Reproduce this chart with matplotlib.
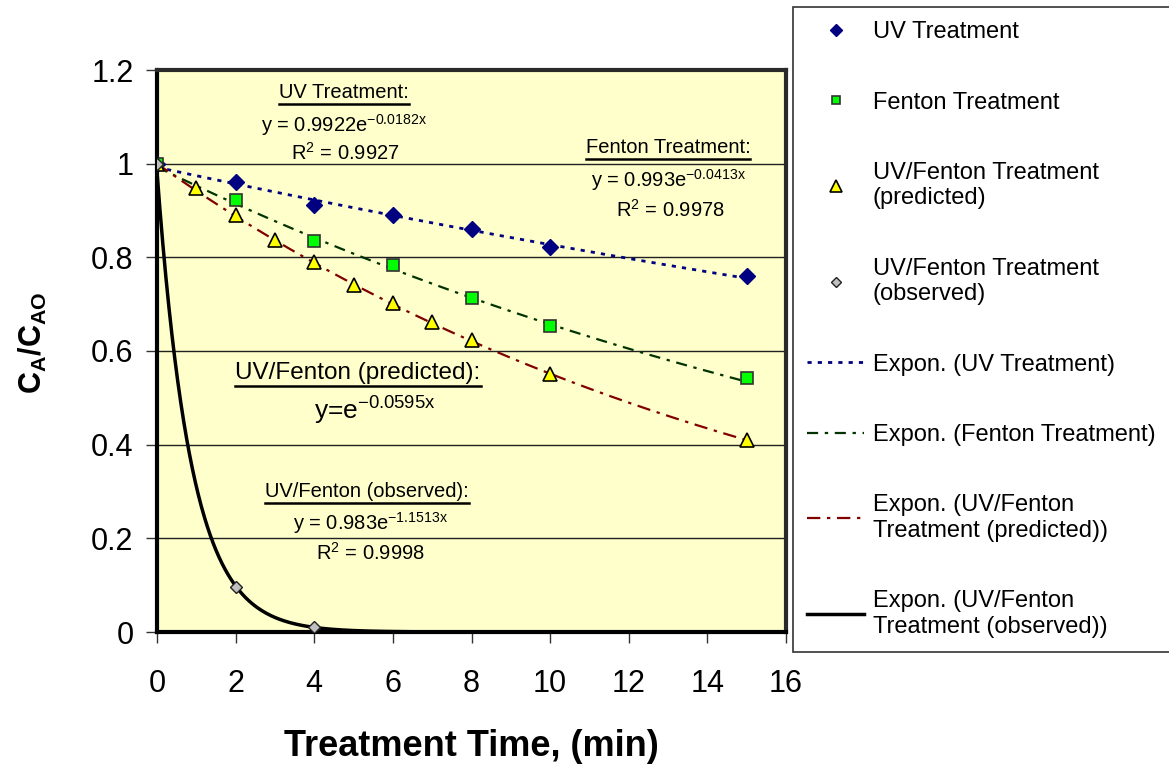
import numpy as np
import matplotlib
matplotlib.use("Agg")
import matplotlib.pyplot as plt
from matplotlib.lines import Line2D

plt.rcParams['font.family'] = ['Liberation Sans', 'DejaVu Sans']
plt.rcParams['mathtext.fontset'] = 'custom'
plt.rcParams['mathtext.rm'] = 'Liberation Sans'
plt.rcParams['mathtext.it'] = 'Liberation Sans:italic'
plt.rcParams['mathtext.bf'] = 'Liberation Sans:bold'

# measured points (C_A / C_AO vs time, min)
uv_t = [0, 2, 4, 6, 8, 10, 15]
uv_c = [1.0, 0.961, 0.911, 0.89, 0.861, 0.823, 0.761]
fenton_t = [0, 2, 4, 6, 8, 10, 15]
fenton_c = [1.0, 0.922, 0.834, 0.783, 0.714, 0.654, 0.543]
pred_t = [0, 1, 2, 3, 4, 5, 6, 7, 8, 10, 15]
pred_c = [1.0, 0.947, 0.891, 0.838, 0.791, 0.741, 0.703, 0.662, 0.624, 0.551, 0.41]
obs_t = [0, 2, 4]
obs_c = [1.0, 0.096, 0.01]

# exponential trendlines y = a*exp(b*x), coefficients as printed on the chart
trend_a = [0.9922, 0.993, 1.0, 0.983]
trend_b = [-0.0182, -0.0413, -0.0595, -1.1513]

W, H = 1169, 766
fig = plt.figure(figsize=(W / 100, H / 100), dpi=100)
ax = fig.add_axes([157 / W, 1 - 632 / H, 629 / W, 562 / H])
ax.set_facecolor('#FFFFCC')

xs = np.linspace(0, 15, 400)
trend_styles = [
    dict(color='#000080', lw=2, ls=(0, (1.5, 2.2))),
    dict(color='#003300', lw=1.6, ls=(0, (5, 3, 1.5, 3))),
    dict(color='#800000', lw=1.6, ls=(0, (6, 3, 1.5, 3))),
    dict(color='black', lw=2.5, ls='-'),
]
trend_labels = ['Expon. (UV Treatment)', 'Expon. (Fenton Treatment)',
                'Expon. (UV/Fenton\nTreatment (predicted))',
                'Expon. (UV/Fenton\nTreatment (observed))']
trend_handles = []
for a, b, st, lab in zip(trend_a, trend_b, trend_styles, trend_labels):
    ax.plot(xs, a * np.exp(b * xs), zorder=3, **st)
    trend_handles.append(Line2D([], [], label=lab, **st))

h1, = ax.plot(uv_t, uv_c, ls='none', marker='D', ms=8, mfc='#000080', mec='#000080',
              label='UV Treatment', zorder=4)
h2, = ax.plot(fenton_t, fenton_c, ls='none', marker='s', ms=8, mfc='#00FF00', mec='#333333',
              mew=1.2, label='Fenton Treatment', zorder=4)
h3, = ax.plot(pred_t, pred_c, ls='none', marker='^', ms=10, mfc='#FFFF00', mec='black',
              mew=1.2, label='UV/Fenton Treatment\n(predicted)', zorder=4)
h4, = ax.plot(obs_t, obs_c, ls='none', marker='D', ms=6, mfc='#C0C0C0', mec='#222222',
              mew=1, label='UV/Fenton Treatment\n(observed)', zorder=4)

ax.set_xlim(0, 16)
ax.set_ylim(0, 1.2)
ax.set_xticks(range(0, 17, 2))
ax.set_yticks([0, 0.2, 0.4, 0.6, 0.8, 1.0, 1.2])
ax.set_yticklabels(['0', '0.2', '0.4', '0.6', '0.8', '1', '1.2'])
ax.tick_params(direction='out', length=8, width=1, labelsize=22, color='#333333')
ax.tick_params(axis='x', pad=19)
ax.tick_params(axis='y', pad=9)
for y in [0.2, 0.4, 0.6, 0.8, 1.0]:
    ax.axhline(y, color='#202020', lw=1, zorder=1)
for side in ['left', 'bottom']:
    ax.spines[side].set_linewidth(3)
    ax.spines[side].set_color('black')
for side in ['top', 'right']:
    ax.spines[side].set_linewidth(3)
    ax.spines[side].set_color('#2a2a2a')

fig.text(471 / W, 1 - 756 / H, 'Treatment Time, (min)', fontsize=26, fontweight='bold',
         ha='center', va='baseline')
fig.text(33 / W, 1 - 343 / H, r'$\mathbf{C_A/C_{AO}}$', fontsize=22, rotation=90,
         ha='center', va='center')

small = 14.5
titles = []
titles.append(ax.text(4.76, 1.152, 'UV Treatment:', fontsize=small, ha='center', va='center'))
ax.text(4.76, 1.083, r'y = 0.9922e$^{\mathregular{-0.0182x}}$', fontsize=small, ha='center', va='center')
ax.text(4.78, 1.023, r'R$^{\mathregular{2}}$ = 0.9927', fontsize=small, ha='center', va='center')
titles.append(ax.text(13.0, 1.034, 'Fenton Treatment:', fontsize=small, ha='center', va='center'))
ax.text(13.0, 0.966, r'y = 0.993e$^{\mathregular{-0.0413x}}$', fontsize=small, ha='center', va='center')
ax.text(13.05, 0.902, r'R$^{\mathregular{2}}$ = 0.9978', fontsize=small, ha='center', va='center')
titles.append(ax.text(5.11, 0.553, 'UV/Fenton (predicted):', fontsize=17.5, ha='center', va='center'))
ax.text(5.55, 0.472, r'y=e$^{\mathregular{-0.0595x}}$', fontsize=19, ha='center', va='center')
titles.append(ax.text(5.34, 0.299, 'UV/Fenton (observed):', fontsize=small, ha='center', va='center'))
ax.text(5.42, 0.233, r'y = 0.983e$^{\mathregular{-1.1513x}}$', fontsize=small, ha='center', va='center')
ax.text(5.42, 0.169, r'R$^{\mathregular{2}}$ = 0.9998', fontsize=small, ha='center', va='center')

handles = [h1, h2, h3, h4] + trend_handles
leg = fig.legend(handles=handles, loc='upper left',
                 bbox_to_anchor=(793 / W, 1 - 653 / H, 420 / W, 646 / H), mode='expand',
                 borderaxespad=0, fontsize=17, frameon=True, fancybox=False,
                 edgecolor='black', handlelength=2.4, handletextpad=0.38,
                 labelspacing=2.05, borderpad=0.6, markerscale=0.8)
leg.get_frame().set_linewidth(1.2)

# underline the annotation headings
fig.canvas.draw()
r = fig.canvas.get_renderer()
for t in titles:
    bb = t.get_window_extent(r)
    y0 = (bb.y0 - 2) / fig.bbox.height
    fig.add_artist(Line2D([bb.x0 / fig.bbox.width, bb.x1 / fig.bbox.width], [y0, y0],
                          color='black', lw=1.8))

fig.savefig('out.png', dpi=100)
